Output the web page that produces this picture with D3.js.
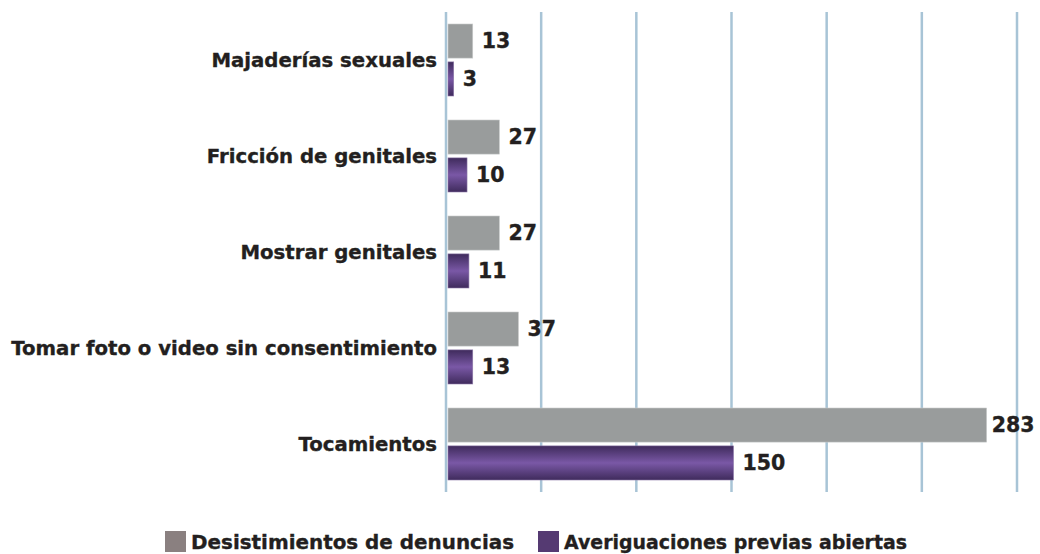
<!DOCTYPE html>
<html>
<head>
<meta charset="utf-8">
<script src="https://cdn.jsdelivr.net/npm/d3@7"></script>
<style>
  body { margin: 0; background: #fff; }
  text { font-family: "DejaVu Sans", sans-serif; font-weight: bold; fill: #231f20;
         stroke: #231f20; stroke-width: 0.35px; }
</style>
</head>
<body>
<div id="chart"></div>
<script>
// categories top to bottom
let categories = ["Majaderías sexuales", "Fricción de genitales", "Mostrar genitales",
                  "Tomar foto o video sin consentimiento", "Tocamientos"];
let seriesNames = ["Desistimientos de denuncias", "Averiguaciones previas abiertas"];
let desistimientos = [13, 27, 27, 37, 283];
let averiguaciones = [3, 10, 11, 13, 150];
let gridTicks = [0, 50, 100, 150, 200, 250, 300];

var width = 1040, height = 554;
var margin = {top: 10, left: 446, right: 23, bottom: 64};

var svg = d3.select("#chart")
    .append("svg")
    .attr("width", width)
    .attr("height", height);

// purple bar gradient (dark edges, lighter middle)
var defs = svg.append("defs");
var grad = defs.append("linearGradient")
    .attr("id", "purp")
    .attr("x1", 0).attr("y1", 0).attr("x2", 0).attr("y2", 1);
grad.append("stop").attr("offset", "0%").attr("stop-color", "#3f2b5c");
grad.append("stop").attr("offset", "50%").attr("stop-color", "#7a58a6");
grad.append("stop").attr("offset", "100%").attr("stop-color", "#3f2b5c");

var x = d3.scaleLinear()
    .domain([0, 300])
    .range([margin.left, width - margin.right]);

var y = d3.scaleBand()
    .domain(categories)
    .range([margin.top, height - margin.bottom])
    .padding(0);

var ySub = d3.scaleBand()
    .domain(seriesNames)
    .range([14, 86])
    .paddingInner(0.1);

// gridlines
svg.append("g")
  .selectAll("line")
  .data(gridTicks)
  .enter()
  .append("line")
    .attr("x1", d => x(d))
    .attr("x2", d => x(d))
    .attr("y1", margin.top + 2)
    .attr("y2", height - margin.bottom + 2)
    .attr("stroke", "#a8c4d6")
    .attr("stroke-width", 2.5);

var rows = categories.map((c, i) => ({cat: c, vals: [desistimientos[i], averiguaciones[i]]}));

var grp = svg.append("g")
  .selectAll("g")
  .data(rows)
  .enter()
  .append("g")
    .attr("transform", d => "translate(0," + y(d.cat) + ")");

grp.selectAll("rect")
  .data(d => d.vals.map((v, j) => ({s: seriesNames[j], v: v, j: j})))
  .enter()
  .append("rect")
    .attr("x", x(0) + 2)
    .attr("y", d => ySub(d.s))
    .attr("width", d => x(d.v) - x(0))
    .attr("height", ySub.bandwidth())
    .attr("fill", d => d.j == 0 ? "#999c9c" : "url(#purp)")
    .attr("stroke", d => d.j == 0 ? "#c9cbcb" : "#8c78a8")
    .attr("stroke-width", 0.6);

// value labels
grp.selectAll("text.val")
  .data(d => d.vals.map((v, j) => ({s: seriesNames[j], v: v})))
  .enter()
  .append("text")
    .attr("class", "val")
    .attr("x", d => x(d.v) + (d.v > 200 ? 7 : 11))
    .attr("y", d => ySub(d.s) + ySub.bandwidth() / 2)
    .attr("dy", "0.36em")
    .style("font-size", "20.5px")
    .text(d => d.v);

// category labels
svg.append("g")
  .selectAll("text")
  .data(categories)
  .enter()
  .append("text")
    .attr("x", margin.left - 9)
    .attr("y", d => y(d) + y.bandwidth() / 2 + 2)
    .attr("dy", "0.36em")
    .attr("text-anchor", "end")
    .style("font-size", "19.7px")
    .text(d => d);

// legend
var legendX = [165, 538];
var legendLen = [323, 343];
var legendColors = ["#8a8080", "#553a72"];
var leg = svg.append("g")
  .selectAll("g")
  .data(seriesNames)
  .enter()
  .append("g")
    .attr("transform", (d, i) => "translate(" + legendX[i] + ",531)");
leg.append("rect")
    .attr("width", 21)
    .attr("height", 21)
    .attr("fill", (d, i) => legendColors[i]);
leg.append("text")
    .attr("x", 26)
    .attr("y", 11)
    .attr("dy", "0.36em")
    .attr("textLength", (d, i) => legendLen[i])
    .attr("lengthAdjust", "spacingAndGlyphs")
    .style("font-size", "20px")
    .text(d => d);
</script>
</body>
</html>
